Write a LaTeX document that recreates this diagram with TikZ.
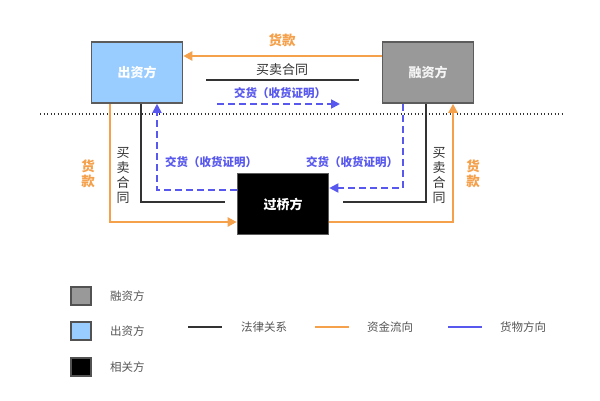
\documentclass[tikz,border=0pt]{standalone}
\usepackage{fontspec}
\newfontfamily\cjk{Noto Sans CJK SC}
\usetikzlibrary{arrows.meta}
\definecolor{orangeC}{HTML}{F5A04A}
\definecolor{blueC}{HTML}{5858EE}
\definecolor{lineK}{HTML}{333333}
\definecolor{boxBlue}{HTML}{99CCFF}
\definecolor{boxGray}{HTML}{999999}
\definecolor{legText}{HTML}{555555}
\tikzset{
  party/.style={draw=lineK!80, line width=1.6pt, minimum width=91pt, minimum height=61pt, inner sep=0pt, font=\cjk\bfseries\fontsize{13}{15}\selectfont, text=white},
  legal/.style={draw=lineK, line width=2.4pt},
  money/.style={draw=orangeC, line width=2.4pt, -{Triangle[length=9pt,width=9pt]}},
  goods/.style={draw=blueC, line width=1.8pt, dash pattern=on 7pt off 4pt, -{Triangle[length=9pt,width=9pt]}},
  moneytxt/.style={text=orangeC, font=\cjk\bfseries\fontsize{13.5}{15}\selectfont},
  goodstxt/.style={text=blueC, font=\cjk\bfseries\fontsize{11.5}{13}\selectfont},
  legaltxt/.style={text=lineK, font=\cjk\fontsize{13}{15}\selectfont},
  vtxt/.style={align=center, inner sep=0pt},
  legbox/.style={draw=lineK!85, line width=1.4pt, minimum width=20pt, minimum height=18pt, inner sep=0pt},
  legtxt/.style={text=legText, font=\cjk\fontsize{11.5}{13}\selectfont, anchor=west, inner sep=0pt},
}
\begin{document}
\begin{tikzpicture}[x=1pt,y=-1pt]
\useasboundingbox[fill=white] (0,0) rectangle (600,401);
% parties
\node[party, fill=boxBlue] (chu) at (137,72.5) {出资方};
\node[party, fill=boxGray, text=white!92!gray] (rong) at (428,72.5) {融资方};
\node[party, fill=black] (guo) at (283,204) {过桥方};
% dotted separator
\coordinate (dl) at (40,114);
\coordinate (dr) at (562,114);
\draw[line width=1.3pt, dash pattern=on 1.3pt off 2.2pt, color=lineK] (dl) -- (dr);
% top: money from rong to chu
\draw[money] (rong.west |- 0,56) -- (chu.east |- 0,56);
\node[moneytxt] (tk) at (282,40) {货款};
% top: legal line
\coordinate (la) at (206,80);
\coordinate (lb) at (359,80);
\draw[legal] (la) -- (lb);
\node[legaltxt] (tc) at (282,70) {买卖合同};
% top: goods
\coordinate (ga) at (217,104);
\coordinate (gb) at (340,104);
\draw[goods] (ga) -- (gb);
\node[goodstxt] (tg) at (280,93) {交货（收货证明）};
% left side
\draw[money] (chu.south -| 110,0) |- (guo.west |- 0,222);
\coordinate (ll) at (225,202);
\draw[legal] (chu.south -| 141,0) |- (ll);
\draw[goods] (guo.west |- 0,190) -| (chu.south -| 157,0);
\node[legaltxt, vtxt] (lc) at (123,175) {买\\卖\\合\\同};
\node[moneytxt, vtxt] (lm) at (88,174) {货\\款};
\node[goodstxt] (lg) at (211,162) {交货（收货证明）};
% right side
\draw[money] (guo.east |- 0,222) -| (rong.south -| 453,0);
\coordinate (rl) at (343,202);
\draw[legal] (rong.south -| 426,0) |- (rl);
\draw[goods] (rong.south -| 403,0) |- (guo.east |- 0,188);
\node[legaltxt, vtxt] (rc) at (439,175) {买\\卖\\合\\同};
\node[moneytxt, vtxt] (rm) at (473,174) {货\\款};
\node[goodstxt] (rg) at (352,162) {交货（收货证明）};
% legend
\node[legbox, fill=boxGray] (k1) at (81,296) {};
\node[legtxt] (k1t) at (110,296) {融资方};
\node[legbox, fill=boxBlue] (k2) at (81,331) {};
\node[legtxt] (k2t) at (110,331) {出资方};
\node[legbox, fill=black] (k3) at (81,367) {};
\node[legtxt] (k3t) at (110,367) {相关方};
\coordinate (a1) at (188,327); \coordinate (a2) at (222,327);
\draw[legal] (a1) -- (a2);
\node[legtxt] (a3) at (241,327) {法律关系};
\coordinate (b1) at (315,327); \coordinate (b2) at (349,327);
\draw[draw=orangeC, line width=2.4pt] (b1) -- (b2);
\node[legtxt] (b3) at (367,327) {资金流向};
\coordinate (c1) at (448,327); \coordinate (c2) at (482,327);
\draw[draw=blueC, line width=2.4pt] (c1) -- (c2);
\node[legtxt] (c3) at (500,327) {货物方向};
\end{tikzpicture}
\end{document}
